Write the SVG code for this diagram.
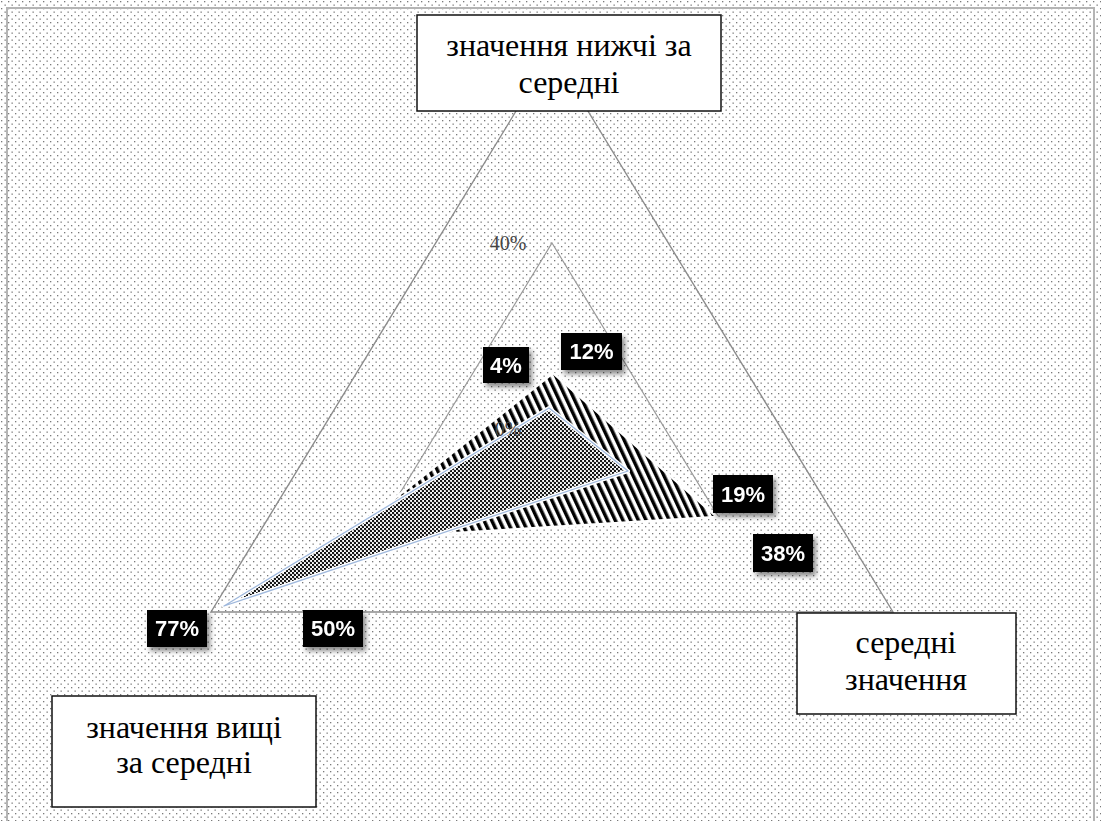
<svg xmlns="http://www.w3.org/2000/svg" width="1101" height="821" viewBox="0 0 1101 821">
<style>
.grid{fill:none;stroke:#8c8c8c;stroke-width:1.4}
.gridin{fill:none;stroke:#9a9a9a;stroke-width:1.2}
.box{fill:#fff;stroke:#111;stroke-width:1.5}
.bt{font-family:"Liberation Serif",serif;font-size:32px;fill:#000;text-anchor:middle}
.lb{fill:#000}
.lt{font-family:"Liberation Sans",Arial,sans-serif;font-weight:bold;font-size:22px;fill:#fff;text-anchor:middle}
.ax{font-family:"Liberation Serif",serif;font-size:20px;fill:#444;text-anchor:middle}
</style>
<defs>
<pattern id="bg" width="7" height="7" patternUnits="userSpaceOnUse">
<rect width="7" height="7" fill="#fff"/>
<rect x="1" y="1" width="1.3" height="1.3" fill="#7a7a7a"/>
<rect x="4.5" y="4.5" width="1.3" height="1.3" fill="#7a7a7a"/>
</pattern>
<pattern id="hatch" width="7" height="10" patternUnits="userSpaceOnUse" patternTransform="rotate(-25)">
<rect width="7" height="10" fill="#fff"/>
<rect width="3.5" height="10" fill="#000"/>
</pattern>
<pattern id="dots" width="4" height="4" patternUnits="userSpaceOnUse">
<rect width="4" height="4" fill="#fff"/>
<circle cx="1" cy="1" r="1.25" fill="#111"/>
<circle cx="3" cy="3" r="1.25" fill="#111"/>
</pattern>
<filter id="sh" x="-30%" y="-30%" width="170%" height="170%">
<feDropShadow dx="3" dy="4" stdDeviation="2.5" flood-color="#000" flood-opacity="0.45"/>
</filter>
</defs>
<rect width="1101" height="821" fill="url(#bg)"/>
<rect x="7" y="8" width="1087" height="820" fill="none" stroke="#b4b4b4" stroke-width="2"/>

<g id="gridlines">
<polygon class="grid" points="552,52 893,612 211,612"/>
<polygon class="gridin" points="552,243 718,516 386,516"/>
<text class="ax" x="508" y="250">40%</text>
</g>

<g id="series-hatched">
<polygon points="553,373 717,517 342,540" fill="url(#hatch)" stroke="#fff" stroke-width="2.5" stroke-linejoin="round"/>
</g>
<g id="series-dotted">
<polygon points="549,408 628,471 224,606" fill="url(#dots)" stroke="#fff" stroke-width="4" stroke-linejoin="round"/>
<polygon points="549,408 628,471 224,606" fill="none" stroke="#9fb8dc" stroke-width="1.3" stroke-linejoin="round"/>
</g>
<text class="ax" x="508" y="436" font-size="15">0%</text>

<g id="labels" filter="url(#sh)">
<g id="l4"><rect class="lb" x="483" y="347" width="46" height="36"/><text class="lt" x="506" y="373">4%</text></g>
<g id="l12"><rect class="lb" x="561" y="333" width="61" height="37"/><text class="lt" x="591.5" y="359">12%</text></g>
<g id="l19"><rect class="lb" x="713" y="475" width="60" height="38"/><text class="lt" x="743" y="502">19%</text></g>
<g id="l38"><rect class="lb" x="753" y="534" width="60" height="38"/><text class="lt" x="783" y="561">38%</text></g>
<g id="l77"><rect class="lb" x="147" y="610" width="60" height="37"/><text class="lt" x="177" y="636">77%</text></g>
<g id="l50"><rect class="lb" x="303" y="610" width="60" height="37"/><text class="lt" x="333" y="636">50%</text></g>
</g>

<g id="node-top">
<rect class="box" x="417" y="15" width="304" height="96"/>
<text class="bt" x="569" y="56">значення нижчі за</text>
<text class="bt" x="569" y="93">середні</text>
</g>
<g id="node-right">
<rect class="box" x="797" y="613" width="219" height="101"/>
<text class="bt" x="906" y="653">середні</text>
<text class="bt" x="906" y="690">значення</text>
</g>
<g id="node-left">
<rect class="box" x="52" y="696" width="264" height="111"/>
<text class="bt" x="184" y="738">значення вищі</text>
<text class="bt" x="184" y="773">за середні</text>
</g>
</svg>
